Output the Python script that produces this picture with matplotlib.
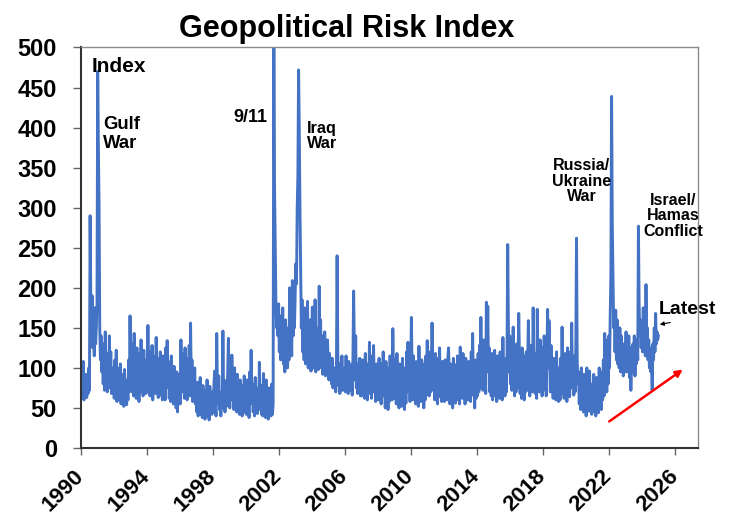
import matplotlib
matplotlib.use("Agg")
import matplotlib.pyplot as plt
import numpy as np

plt.rcParams['font.family'] = ['Liberation Sans', 'DejaVu Sans']

start_year = 1990.0
points_per_year = 24

gpr_1990 = [100, 62, 95, 70, 108, 60, 88, 65, 92, 63, 80, 68, 100, 72, 290, 180, 140, 190, 125, 160, 115, 175, 130, 150]
gpr_1991 = [180, 470, 376, 300, 150, 110, 140, 95, 125, 80, 130, 72, 145, 90, 118, 70, 112, 85, 140, 75, 120, 68, 100, 80]
gpr_1992 = [95, 62, 110, 70, 122, 58, 100, 66, 88, 60, 105, 55, 92, 63, 80, 52, 98, 58, 85, 54, 75, 60, 110, 70]
gpr_1993 = [165, 95, 120, 70, 130, 65, 143, 80, 110, 62, 125, 75, 100, 58, 118, 70, 135, 82, 105, 65, 122, 74, 96, 68]
gpr_1994 = [110, 70, 153, 85, 120, 65, 105, 72, 128, 60, 115, 78, 100, 68, 138, 82, 112, 63, 98, 70, 120, 66, 105, 60]
gpr_1995 = [115, 72, 100, 60, 125, 75, 134, 85, 108, 62, 96, 58, 115, 66, 90, 55, 102, 60, 85, 50, 95, 45, 88, 60]
gpr_1996 = [92, 55, 135, 78, 118, 70, 105, 62, 125, 68, 112, 60, 100, 72, 128, 65, 156, 80, 110, 58, 95, 62, 100, 55]
gpr_1997 = [75, 45, 82, 40, 70, 48, 88, 42, 65, 38, 78, 50, 60, 36, 72, 44, 85, 40, 68, 35, 77, 48, 62, 42]
gpr_1998 = [70, 45, 80, 96, 60, 40, 143, 75, 55, 90, 48, 65, 40, 70, 50, 146, 62, 85, 45, 78, 52, 66, 95, 137]
gpr_1999 = [80, 50, 95, 60, 116, 72, 88, 48, 100, 55, 75, 45, 92, 58, 70, 42, 85, 52, 68, 40, 78, 50, 90, 45]
gpr_2000 = [72, 42, 85, 50, 68, 38, 95, 55, 122, 70, 80, 45, 66, 40, 88, 52, 75, 43, 70, 48, 107, 60, 78, 42]
gpr_2001 = [65, 40, 93, 55, 70, 38, 85, 48, 62, 36, 75, 45, 58, 40, 80, 42, 55, 530, 330, 260, 185, 150, 175, 140]
gpr_2002 = [180, 120, 165, 110, 150, 140, 175, 105, 140, 95, 160, 115, 130, 100, 150, 110, 200, 125, 170, 115, 209, 140, 185, 150]
gpr_2003 = [190, 230, 205, 300, 340, 472, 400, 300, 226, 150, 185, 120, 160, 110, 175, 105, 150, 120, 183, 100, 140, 115, 160, 96]
gpr_2004 = [120, 176, 100, 140, 110, 185, 95, 150, 105, 130, 98, 202, 115, 160, 100, 140, 92, 125, 105, 145, 90, 118, 100, 135]
gpr_2005 = [110, 85, 118, 90, 105, 80, 112, 75, 98, 100, 85, 70, 95, 240, 120, 78, 105, 68, 100, 82, 115, 72, 96, 80]
gpr_2006 = [100, 70, 115, 78, 95, 68, 108, 75, 90, 72, 104, 66, 110, 196, 130, 85, 140, 75, 105, 68, 98, 72, 112, 65]
gpr_2007 = [95, 65, 110, 70, 100, 62, 118, 75, 90, 60, 105, 68, 132, 80, 98, 62, 115, 70, 128, 75, 92, 58, 105, 64]
gpr_2008 = [98, 60, 112, 68, 90, 55, 105, 70, 120, 65, 95, 50, 108, 62, 88, 48, 100, 58, 115, 70, 95, 60, 149, 85]
gpr_2009 = [110, 62, 95, 55, 118, 68, 90, 50, 105, 60, 98, 52, 112, 64, 88, 48, 100, 56, 120, 70, 132, 75, 95, 58]
gpr_2010 = [100, 163, 90, 60, 115, 68, 95, 55, 108, 62, 90, 52, 127, 70, 98, 58, 110, 64, 92, 50, 105, 60, 115, 66]
gpr_2011 = [134, 80, 112, 65, 120, 70, 105, 156, 110, 72, 95, 60, 118, 66, 100, 55, 112, 70, 125, 64, 98, 58, 108, 62]
gpr_2012 = [95, 58, 110, 65, 100, 60, 112, 125, 90, 55, 105, 62, 96, 50, 112, 66, 90, 56, 104, 60, 115, 64, 98, 55]
gpr_2013 = [126, 70, 105, 62, 118, 66, 96, 55, 112, 64, 100, 60, 108, 70, 95, 58, 120, 66, 143, 80, 100, 50, 110, 62]
gpr_2014 = [105, 65, 118, 70, 128, 75, 163, 88, 120, 72, 135, 80, 110, 68, 182, 95, 177, 100, 125, 70, 112, 65, 118, 60]
gpr_2015 = [110, 65, 122, 70, 100, 58, 115, 68, 105, 62, 120, 72, 96, 60, 138, 80, 112, 65, 100, 70, 118, 254, 150, 95]
gpr_2016 = [140, 80, 118, 72, 125, 151, 100, 65, 112, 70, 130, 75, 105, 168, 120, 68, 110, 62, 125, 75, 100, 60, 115, 70]
gpr_2017 = [120, 72, 105, 159, 110, 65, 128, 80, 100, 70, 175, 95, 118, 68, 108, 62, 173, 90, 120, 70, 135, 78, 110, 65]
gpr_2018 = [125, 72, 140, 80, 110, 65, 120, 173, 100, 159, 115, 70, 128, 75, 105, 62, 112, 68, 95, 60, 120, 72, 100, 58]
gpr_2019 = [95, 60, 112, 68, 151, 85, 105, 62, 118, 70, 100, 58, 125, 72, 110, 64, 120, 75, 156, 90, 108, 66, 115, 70]
gpr_2020 = [125, 262, 110, 80, 95, 55, 88, 48, 100, 58, 85, 45, 92, 52, 78, 40, 100, 55, 82, 46, 96, 50, 75, 42]
gpr_2021 = [80, 45, 92, 52, 70, 40, 88, 50, 75, 44, 100, 55, 82, 48, 95, 60, 110, 65, 143, 75, 120, 70, 135, 80]
gpr_2022 = [140, 100, 165, 218, 439, 280, 210, 150, 172, 120, 172, 110, 160, 105, 140, 100, 150, 95, 140, 100, 125, 90, 130, 95]
gpr_2023 = [110, 145, 95, 130, 100, 140, 88, 125, 72, 110, 95, 130, 100, 140, 90, 120, 105, 135, 110, 277, 180, 140, 160, 125]
gpr_2024 = [150, 120, 175, 130, 165, 115, 204, 140, 150, 110, 135, 100, 125, 95, 115, 72, 130, 110, 150, 120, 168, 130, 145, 135]
gpr_2025 = [140]

series = (gpr_1990 + gpr_1991 + gpr_1992 + gpr_1993 + gpr_1994 + gpr_1995 + gpr_1996 +
          gpr_1997 + gpr_1998 + gpr_1999 + gpr_2000 + gpr_2001 + gpr_2002 + gpr_2003 +
          gpr_2004 + gpr_2005 + gpr_2006 + gpr_2007 + gpr_2008 + gpr_2009 + gpr_2010 +
          gpr_2011 + gpr_2012 + gpr_2013 + gpr_2014 + gpr_2015 + gpr_2016 + gpr_2017 +
          gpr_2018 + gpr_2019 + gpr_2020 + gpr_2021 + gpr_2022 + gpr_2023 + gpr_2024 + gpr_2025)
years = start_year + np.arange(len(series)) / points_per_year

x_ticks = [1990, 1994, 1998, 2002, 2006, 2010, 2014, 2018, 2022, 2026]
y_ticks = [0, 50, 100, 150, 200, 250, 300, 350, 400, 450, 500]

W, H = 729, 519
fig = plt.figure(figsize=(W / 100, H / 100), dpi=100)
ax = fig.add_axes([80.5 / W, 1 - 448 / H, (698 - 80.5) / W, (448 - 47.5) / H])

ax.plot(years, series, color='#4472C4', lw=2.1, solid_joinstyle='round')

ax.set_xlim(1990, 2027.4)
ax.set_ylim(0, 500)
ax.set_xticks(x_ticks)
ax.set_yticks(y_ticks)
ax.set_xticklabels([str(t) for t in x_ticks], rotation=45, ha='right', va='center',
                   rotation_mode='anchor', fontsize=16, fontweight='bold')
ax.set_yticklabels([str(t) for t in y_ticks], fontsize=17, fontweight='bold')
ax.tick_params(axis='y', direction='out', length=6, width=1, pad=11, color='#666666')
ax.tick_params(axis='x', direction='out', length=5, width=1, pad=13, color='#666666')

for s in ['left', 'bottom']:
    ax.spines[s].set_color('#333333')
    ax.spines[s].set_linewidth(1.5)
for s in ['top', 'right']:
    ax.spines[s].set_color('#8c8c8c')
    ax.spines[s].set_linewidth(1.0)

fig.text(347 / W, 1 - 37 / H, 'Geopolitical Risk Index', ha='center', va='baseline',
         fontsize=22, fontweight='bold')

def ft(px, py, s, size, ha='left', ls=1.2):
    fig.text(px / W, 1 - py / H, s, ha=ha, va='center', fontsize=size,
             fontweight='bold', linespacing=ls)

ft(92, 66, 'Index', 15)
ft(103, 134, 'Gulf\nWar', 13.3)
ft(250, 117, '9/11', 13, ha='center')
ft(307, 136, 'Iraq\nWar', 11.7, ls=1.0)
ft(582, 181, 'Russia/\nUkraine\nWar', 11.5, ha='center', ls=1.05)
ft(673, 216, 'Israel/\nHamas\nConflict', 11.5, ha='center', ls=1.05)
ft(659, 309, 'Latest', 14)

fig.add_artist(matplotlib.patches.FancyArrowPatch(
    (673 / W, 1 - 322 / H), (657 / W, 1 - 325 / H), transform=fig.transFigure,
    arrowstyle='-|>', mutation_scale=6, color='black', lw=0.8))
fig.add_artist(matplotlib.patches.FancyArrowPatch(
    (607 / W, 1 - 423 / H), (685 / W, 1 - 368 / H), transform=fig.transFigure,
    arrowstyle='-|>', mutation_scale=10, color='#FF0000', lw=1.8))

fig.savefig('out.png', dpi=100)
